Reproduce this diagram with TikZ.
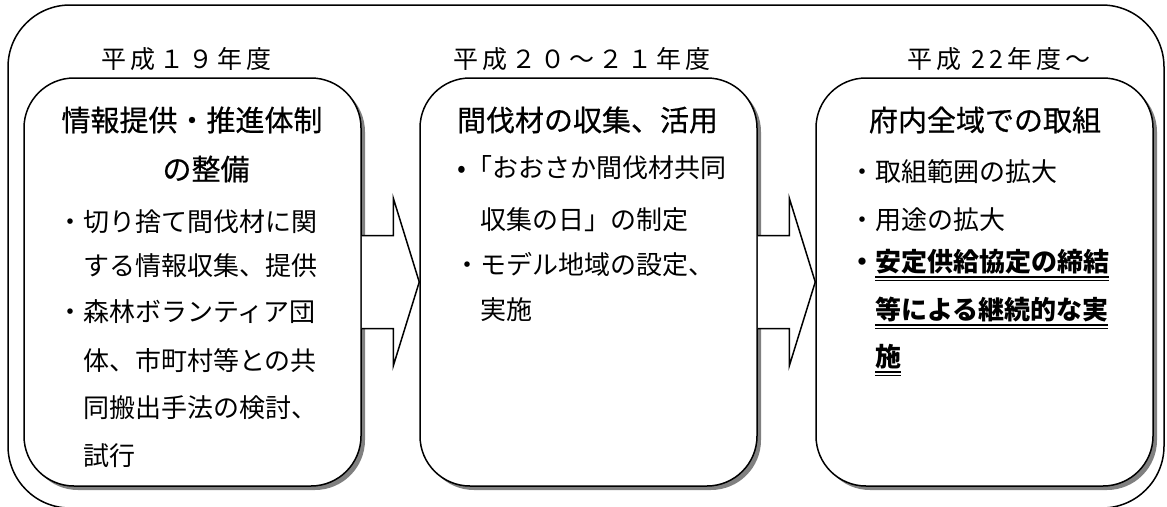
\documentclass[tikz,border=0pt]{standalone}
\usepackage{fontspec}
\setmainfont{Noto Sans CJK JP}
\usetikzlibrary{calc,shadows}
\newcommand\dblul[1]{\setbox0=\hbox{#1}\rlap{\lower4.5pt\hbox{\vrule width\wd0 height0pt depth2pt}}\rlap{\lower8pt\hbox{\vrule width\wd0 height0pt depth1.2pt}}\box0}
\tikzset{
  frame/.style={draw, line width=1.5pt, rounded corners=62pt, minimum width=1156pt, minimum height=503pt, inner sep=0},
  box/.style={draw, line width=1.5pt, rounded corners=50pt, fill=white, minimum width=337pt, minimum height=408pt, inner sep=0,
    drop shadow={shadow xshift=4pt, shadow yshift=-4pt, fill=black!50, opacity=1}},
  yr/.style={font=\fontsize{25}{30}\selectfont\addfontfeature{LetterSpace=16}, inner sep=0},
  ttl/.style={font=\fontsize{29}{34}\selectfont\addfontfeature{FakeBold=0.6}, inner sep=0},
  body/.style={font=\fontsize{26}{30}\selectfont, inner sep=0, anchor=west},
  arr/.style={line width=1.5pt, line join=miter},
}
\begin{document}
\begin{tikzpicture}[x=1pt,y=-1pt]
\useasboundingbox (0,0) rectangle (1167,506);
\node[frame] (fr) at (586,256.5) {};
% boxes
\node[box] (b1) at (192.5,282) {};
\node[box] (b2) at (588.5,282) {};
\node[box] (b3) at (984.5,282) {};
% arrows
\foreach \a/\b in {b1/b2, b2/b3}{
  \fill[white] ($(\a.east)+(0,-46.5)$) -- ($(\b.west)+(-26,-46.5)$) -- ($(\b.west)+(-26,-84)$) -- (\b.west)
     -- ($(\b.west)+(-26,84)$) -- ($(\b.west)+(-26,46.5)$) -- ($(\a.east)+(0,46.5)$) -- cycle;
  \draw[arr] ($(\a.east)+(0,-46.5)$) -- ($(\b.west)+(-26,-46.5)$) -- ($(\b.west)+(-26,-84)$) -- (\b.west)
     -- ($(\b.west)+(-26,84)$) -- ($(\b.west)+(-26,46.5)$) -- ($(\a.east)+(0,46.5)$);
}
% year labels
\node[yr] (y1) at (186,59) {平成１９年度};
\node[yr] (y2) at (582,59) {平成２０～２１年度};
\node[yr] (y3) at (999,59) {平成 22年度～};
% titles
\node[ttl] (t1) at (192,120) {情報提供・推進体制};
\node[ttl] (t1b) at (206,169) {の整備};
\node[ttl] (t2) at (587.5,120) {間伐材の収集、活用};
\node[ttl] (t3) at (985,120) {府内全域での取組};
% left body
\node[body] (l1) at (83,222) {\llap{・}切り捨て間伐材に関};
\node[body] (l2) at (83,266) {する情報収集、提供};
\node[body] (l3) at (83,312) {\llap{・}森林ボランティア団};
\node[body] (l4) at (83,361) {体、市町村等との共};
\node[body] (l5) at (83,408) {同搬出手法の検討、};
\node[body] (l6) at (83,456) {試行};
% middle body
\node[body] (m1) at (466,168) {\llap{•}「おおさか間伐材共同};
\node[body] (m2) at (480,220) {収集の日」の制定};
\node[body] (m3) at (480,265) {\llap{・}モデル地域の設定、};
\node[body] (m4) at (480,310) {実施};
% right body
\node[body] (r1) at (875,172) {\llap{・}取組範囲の拡大};
\node[body] (r2) at (875,220) {\llap{・}用途の拡大};
\node[body] (r3) at (875,265) {\llap{\bfseries ・}\bfseries\dblul{安定供給協定の締結}};
\node[body] (r4) at (875,313) {\bfseries\dblul{等による継続的な実}};
\node[body] (r5) at (875,360) {\bfseries\dblul{施}};
\end{tikzpicture}
\end{document}
